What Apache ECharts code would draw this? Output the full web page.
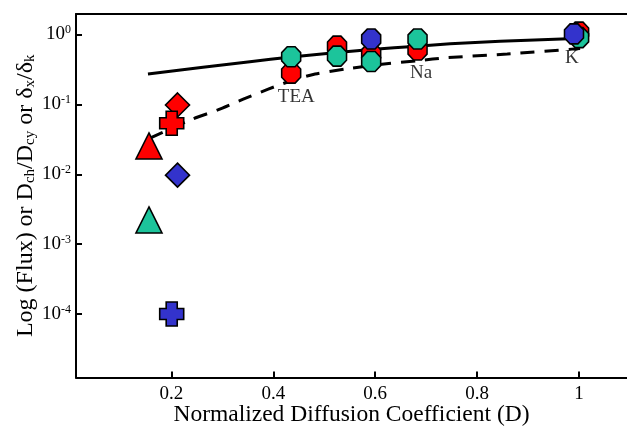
<!DOCTYPE html>
<html>
<head>
<meta charset="utf-8">
<script src="https://cdn.jsdelivr.net/npm/echarts@6/dist/echarts.min.js"></script>
<style>html,body{margin:0;padding:0;background:#fff}#c{width:627px;height:429px}</style>
</head>
<body>
<div id="c"></div>
<script>
// ---- data ----
const xTicks = [0.2, 0.4, 0.6, 0.8, 1];
const yTicks = [1e-4, 1e-3, 1e-2, 1e-1, 1];

const solidX = [0.154, 0.354, 0.435, 0.525, 0.592, 0.682, 0.747, 0.845, 0.992];
const solidY = [0.272, 0.408, 0.476, 0.552, 0.61, 0.68, 0.735, 0.80, 0.877];

const dashX = [0.158, 0.242, 0.291, 0.341, 0.390, 0.435, 0.482, 0.551, 0.613, 0.684, 0.741, 0.859, 1.002];
const dashY = [0.033, 0.0618, 0.0832, 0.119, 0.165, 0.218, 0.272, 0.328, 0.375, 0.422, 0.466, 0.526, 0.63];

const redOctX = [0.435, 0.525, 0.592, 0.683, 1.0];
const redOctY = [0.28, 0.68, 0.53, 0.60, 1.08];
const tealOctX = [0.435, 0.525, 0.592, 0.683, 1.0];
const tealOctY = [0.48, 0.49, 0.41, 0.86, 0.90];
const blueOctX = [0.592, 0.99];
const blueOctY = [0.86, 1.02];

const redTriX = [0.156], redTriY = [0.0254];
const tealTriX = [0.156], tealTriY = [0.00222];
const redDiaX = [0.212], redDiaY = [0.098];
const blueDiaX = [0.212], blueDiaY = [0.0097];
const redCrossX = [0.2006], redCrossY = [0.0537];
const blueCrossX = [0.2006], blueCrossY = [0.0001];

const labelNames = ['TEA', 'Na', 'K'];
const labelX = [0.445, 0.69, 0.986];
const labelY = [0.128, 0.28, 0.46];

// ---- styles ----
const RED = '#ff0000', TEAL = '#1cc49b', BLUE = '#3333cc';
const FONT = 'Liberation Serif';
const OCT = 'path://M29.3,0 L70.7,0 L100,29.3 L100,70.7 L70.7,100 L29.3,100 L0,70.7 L0,29.3 Z';
const CROSS = 'path://M27,0 L73,0 L73,27 L100,27 L100,73 L73,73 L73,100 L27,100 L27,73 L0,73 L0,27 L27,27 Z';

const zip = (xs, ys) => xs.map((x, i) => [x, ys[i]]);

function scatter(name, xs, ys, color, symbol, size, z) {
  return {
    name, type: 'scatter', data: zip(xs, ys), symbol, symbolSize: size, z,
    itemStyle: { color, borderColor: '#000', borderWidth: 1.6, opacity: 1 },
    emphasis: { disabled: true }
  };
}

const chart = echarts.init(document.getElementById('c'), null, { renderer: 'canvas' });
const supRich = { base: { fontSize: 19, fontFamily: FONT, color: '#000' }, sup: { fontSize: 12, fontFamily: FONT, color: '#000', verticalAlign: 'top', padding: [0, 0, 9, 0] } };

chart.setOption({
  animation: false,
  backgroundColor: '#fff',
  grid: { left: 76, right: 0, top: 14, bottom: 51.5, containLabel: false, outerBoundsMode: 'none' },
  xAxis: [{
    type: 'value', min: 0.0128, max: 1.094,
    name: 'Normalized Diffusion Coefficient (D)', nameLocation: 'middle', nameGap: 25, nameMoveOverlap: false,
    nameTextStyle: { fontFamily: FONT, fontSize: 23.5, color: '#000' },
    axisLine: { show: true, lineStyle: { color: '#000', width: 2 } },
    axisTick: { show: true, inside: true, length: 6, lineStyle: { color: '#000', width: 2 }, customValues: xTicks },
    axisLabel: { fontFamily: FONT, fontSize: 19, color: '#000', margin: 7, customValues: xTicks },
    splitLine: { show: false }
  }, {
    type: 'value', position: 'top', min: 0.0128, max: 1.094,
    axisLine: { show: true, lineStyle: { color: '#000', width: 2 } },
    axisTick: { show: false }, axisLabel: { show: false }, splitLine: { show: false }
  }],
  yAxis: {
    type: 'log', logBase: 10, min: 1.236e-5, max: 1.963,
    name: 'Log (Flux) or D{sub|ch}/D{sub|cy} or δ{sub|x}/δ{sub|k}',
    nameLocation: 'middle', nameGap: 38, nameRotate: 90, nameMoveOverlap: false,
    nameTextStyle: {
      fontFamily: FONT, fontSize: 24, color: '#000',
      rich: { sub: { fontFamily: FONT, fontSize: 15, color: '#000', verticalAlign: 'bottom', padding: [8, 0, 0, 0] } }
    },
    axisLine: { show: true, lineStyle: { color: '#000', width: 2 } },
    axisTick: { show: true, inside: true, length: 6, lineStyle: { color: '#000', width: 2 }, customValues: yTicks },
    axisLabel: {
      customValues: yTicks, margin: 5,
      formatter: v => '{base|10}{sup|' + Math.round(Math.log10(v)) + '}',
      rich: supRich
    },
    splitLine: { show: false }
  },
  series: [
    { name: 'solid', type: 'line', data: zip(solidX, solidY), showSymbol: false, smooth: 0.25, z: 1,
      lineStyle: { color: '#000', width: 3 } },
    { name: 'dashed', type: 'line', data: zip(dashX, dashY), showSymbol: false, smooth: 0.25, z: 1,
      lineStyle: { color: '#000', width: 3, type: [14, 10] } },
    scatter('redTri', redTriX, redTriY, RED, 'triangle', [26, 26], 2),
    scatter('tealTri', tealTriX, tealTriY, TEAL, 'triangle', [26, 26], 2),
    scatter('redDia', redDiaX, redDiaY, RED, 'diamond', [24, 24], 2),
    scatter('blueDia', blueDiaX, blueDiaY, BLUE, 'diamond', [24, 24], 2),
    scatter('redCross', redCrossX, redCrossY, RED, CROSS, [24, 24], 3),
    scatter('blueCross', blueCrossX, blueCrossY, BLUE, CROSS, [24, 24], 3),
    scatter('redOct', redOctX, redOctY, RED, OCT, [19, 20], 4),
    scatter('tealOct', tealOctX, tealOctY, TEAL, OCT, [19, 20], 5),
    scatter('blueOct', blueOctX, blueOctY, BLUE, OCT, [19, 20], 6),
    { name: 'labels', type: 'scatter', symbolSize: 0, z: 7, silent: true,
      data: labelNames.map((n, i) => ({ name: n, value: [labelX[i], labelY[i]] })),
      label: { show: true, position: 'inside', formatter: p => p.name, fontFamily: FONT, fontSize: 19, color: '#000' } }
  ]
});
</script>
</body>
</html>
